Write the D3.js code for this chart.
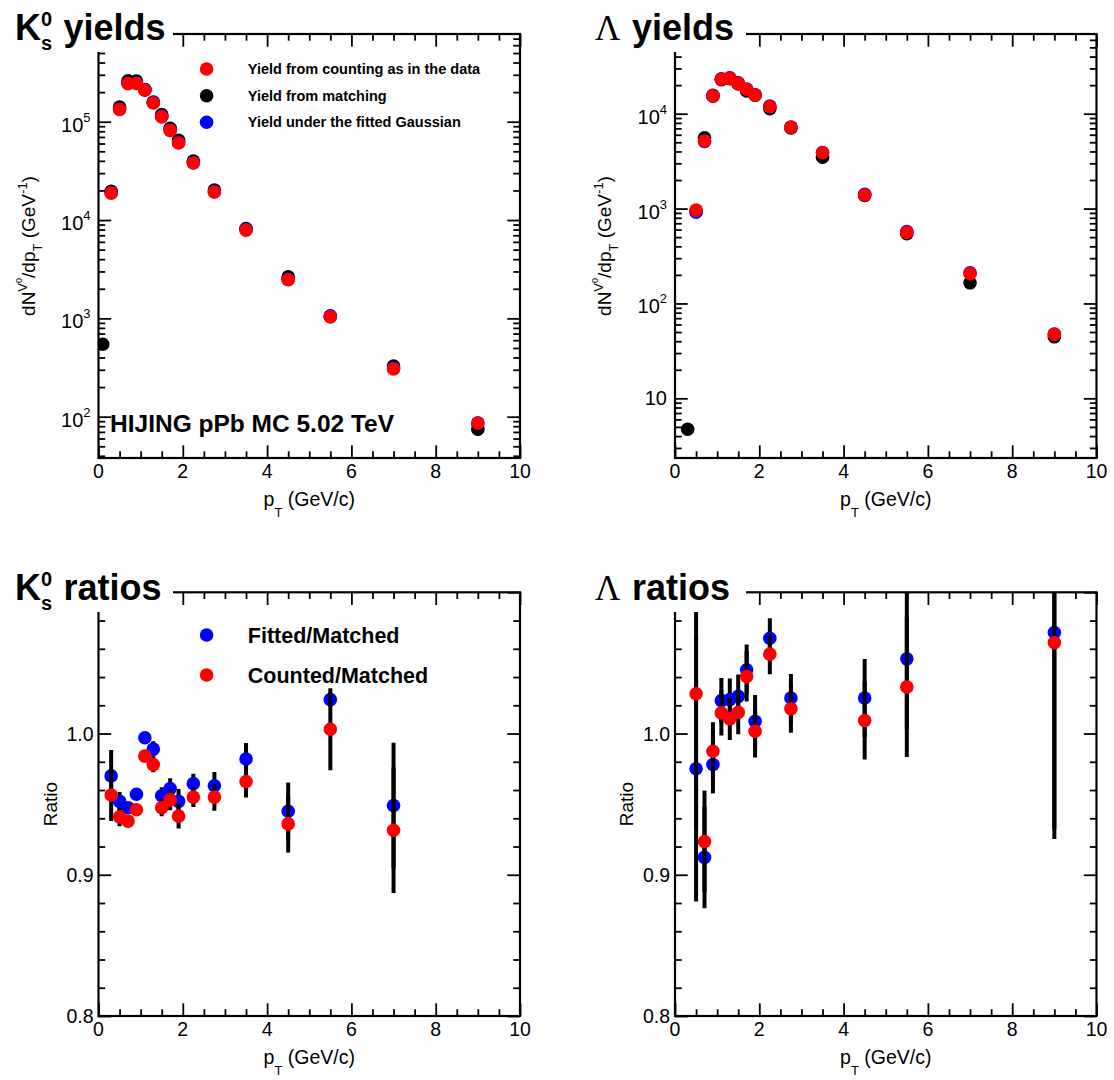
<!DOCTYPE html>
<html><head><meta charset="utf-8">
<script src="https://cdn.jsdelivr.net/npm/d3@7"></script>
<style>
body{margin:0;background:#fff}
svg{display:block}
text{font-family:"Liberation Sans",Arial,Helvetica,sans-serif;fill:#000}
</style>
</head><body>
<svg id="c" width="1114" height="1080"></svg>
<script>
// ---------------- DATA ----------------
const ptK0s        = [0.1, 0.3, 0.5, 0.7, 0.9, 1.1, 1.3, 1.5, 1.7, 1.9, 2.25, 2.75, 3.5, 4.5, 5.5, 7, 9];
const k0sMatched   = [546, 19650, 141300, 260100, 259000, 212400, 158500, 118200, 85700, 64600, 39800, 20200, 8180, 2640, 1037, 328, 74.5];
const k0sFitted    = [null, 19070, 134500, 246400, 247900, 211800, 156800, 113000, 82400, 61500, 38400, 19450, 8030, 2495, 1062, 312, 86];
const k0sCounted   = [null, 18800, 133000, 244000, 245000, 209000, 155000, 112000, 81700, 60800, 38000, 19300, 7900, 2470, 1040, 306, 86.3];

const ptLam        = [0.3, 0.5, 0.7, 0.9, 1.1, 1.3, 1.5, 1.7, 1.9, 2.25, 2.75, 3.5, 4.5, 5.5, 7, 9];
const lamMatched   = [4.72, 938, 5576, 15600, 22770, 23360, 20590, 17400, 15680, 11270, 7075, 3470, 1377, 543, 165, 44.5];
const lamFitted    = [null, 915, 5087, 15260, 23300, 23920, 21130, 18190, 15820, 12030, 7250, 3900, 1412, 572, 210, 47.7];
const lamCounted   = [null, 964, 5150, 15400, 23100, 23600, 20900, 18100, 15700, 11900, 7200, 3880, 1390, 561, 207, 47.4];

const ptK0sRatio        = [0.3, 0.5, 0.7, 0.9, 1.1, 1.3, 1.5, 1.7, 1.9, 2.25, 2.75, 3.5, 4.5, 5.5, 7];
const k0sRatioFitted    = [0.970, 0.952, 0.9475, 0.957, 0.997, 0.989, 0.956, 0.961, 0.952, 0.9645, 0.963, 0.982, 0.945, 1.024, 0.949];
const k0sRatioCounted   = [0.9565, 0.941, 0.938, 0.946, 0.984, 0.978, 0.9475, 0.953, 0.9415, 0.955, 0.955, 0.966, 0.936, 1.003, 0.9315];
const k0sRatioErrFitted = [0.0184, 0.0066, 0.003, 0.003, 0.003, 0.0055, 0.006, 0.0074, 0.0088, 0.007, 0.0097, 0.0113, 0.0203, 0.005, 0.0445];
const k0sRatioErrCounted= [0.0184, 0.0066, 0.003, 0.003, 0.003, 0.0055, 0.006, 0.0074, 0.0088, 0.007, 0.0097, 0.0113, 0.0203, 0.029, 0.0445];

const ptLamRatio        = [0.5, 0.7, 0.9, 1.1, 1.3, 1.5, 1.7, 1.9, 2.25, 2.75, 4.5, 5.5, 9];
const lamRatioFitted    = [0.9751, 0.9123, 0.9781, 1.0233, 1.024, 1.0263, 1.0452, 1.0087, 1.0675, 1.0252, 1.0252, 1.0529, 1.0715];
const lamRatioCounted   = [1.0282, 0.9236, 0.9875, 1.0146, 1.0104, 1.015, 1.0404, 1.0016, 1.0562, 1.0176, 1.0092, 1.033, 1.0644];
const lamRatioErr       = [0.094, 0.036, 0.0205, 0.016, 0.015, 0.0155, 0.0178, 0.0185, 0.0142, 0.017, 0.0276, 0.0497, 0.139];

const xTickLabels     = ["0", "2", "4", "6", "8", "10"];
const ratioTickLabels = ["0.8", "0.9", "1.0"];
const k0sYieldExps    = [2, 3, 4, 5];
const lamYieldExps    = [1, 2, 3, 4];

const yieldLegend = [
  {label: "Yield from counting as in the data", color: "#ff0000"},
  {label: "Yield from matching", color: "#000000"},
  {label: "Yield under the fitted Gaussian", color: "#0000ff"}
];
const ratioLegend = [
  {label: "Fitted/Matched", color: "#0000ff"},
  {label: "Counted/Matched", color: "#ff0000"}
];

// ---------------- DRAW ----------------
const svg = d3.select("#c");
svg.append("rect").attr("width", 1114).attr("height", 1080).attr("fill", "#fff");

const R = 6.8;
const P = {
  tl: {x0: 98.5, x1: 520,    y0: 34,    y1: 458},
  tr: {x0: 675,  x1: 1096.5, y0: 34,    y1: 458},
  bl: {x0: 98.5, x1: 520,    y0: 592.3, y1: 1016},
  br: {x0: 675,  x1: 1096.5, y0: 592.3, y1: 1016}
};

function panel(p, id, yScale) {
  const x = d3.scaleLinear().domain([0, 10]).range([p.x0, p.x1]);
  const y = yScale.range([p.y1, p.y0]);
  svg.append("clipPath").attr("id", "clip" + id).append("rect")
    .attr("x", p.x0).attr("y", p.y0).attr("width", p.x1 - p.x0).attr("height", p.y1 - p.y0);
  const g = svg.append("g");
  const data = svg.append("g").attr("clip-path", `url(#clip${id})`);
  return {p, x, y, g, data, id};
}

function ticks(Q, yMajor, yMinor) {
  const {p, x, y, g} = Q;
  const xMaj = xTickLabels.map(Number);
  const xMin = d3.range(0, 10.0001, 0.5).filter(v => !xMaj.includes(v));
  const ax = (gen, vals, size, tr) => g.append("g").attr("transform", tr)
    .call(gen.tickValues(vals).tickSize(-size).tickFormat(""))
    .call(s => { s.select(".domain").remove(); s.selectAll("line").attr("stroke", "#000").attr("stroke-width", 1.8); });
  ax(d3.axisBottom(x), xMaj, 12.7, `translate(0,${p.y1})`);
  ax(d3.axisBottom(x), xMin, 6.7, `translate(0,${p.y1})`);
  ax(d3.axisTop(x), xMaj, 12.7, `translate(0,${p.y0})`);
  ax(d3.axisTop(x), xMin, 6.7, `translate(0,${p.y0})`);
  ax(d3.axisLeft(y), yMajor, 12.7, `translate(${p.x0},0)`);
  ax(d3.axisLeft(y), yMinor, 6.7, `translate(${p.x0},0)`);
  ax(d3.axisRight(y), yMajor, 12.7, `translate(${p.x1},0)`);
  ax(d3.axisRight(y), yMinor, 6.7, `translate(${p.x1},0)`);
  xTickLabels.forEach(l => {
    g.append("text").attr("x", x(+l)).attr("y", p.y1 + 19.5).attr("text-anchor", "middle")
      .attr("font-size", 19.5).text(l);
  });
  const t = g.append("text").attr("x", (p.x0 + p.x1) / 2).attr("y", p.y1 + 47.5)
    .attr("text-anchor", "middle").attr("font-size", 19.5);
  t.append("tspan").text("p");
  t.append("tspan").attr("font-size", 13).attr("dy", 11).text("T");
  t.append("tspan").attr("dy", -11).text(" (GeV/c)");
}

function logMinor(domain) {
  const out = [];
  for (let d = Math.floor(Math.log10(domain[0])); d <= Math.ceil(Math.log10(domain[1])); d++)
    for (let m = 2; m <= 9; m++) {
      const v = m * Math.pow(10, d);
      if (v >= domain[0] && v <= domain[1]) out.push(v);
    }
  return out;
}

function logLabels(Q, exps) {
  const {p, y, g} = Q;
  exps.forEach(e => {
    const v = Math.pow(10, e);
    const t = g.append("text").attr("x", p.x0 - 8).attr("text-anchor", "end").attr("font-size", 20);
    if (e === 1) {
      t.attr("y", y(v) + 7).text("10");
    } else {
      t.attr("y", y(v) + 10);
      t.append("tspan").text("10");
      t.append("tspan").attr("font-size", 13).attr("dy", -10).text(String(e));
    }
  });
}

function yieldYTitle(Q) {
  const {p} = Q;
  const t = svg.append("text")
    .attr("transform", `translate(${p.x0 - 64},${(p.y0 + p.y1) / 2}) rotate(-90)`)
    .attr("text-anchor", "middle").attr("font-size", 19);
  t.append("tspan").text("dN");
  t.append("tspan").attr("font-size", 13).attr("dy", -8).text("V");
  t.append("tspan").attr("font-size", 9).attr("dy", -5).text("0");
  t.append("tspan").attr("dy", 13).text("/dp");
  t.append("tspan").attr("font-size", 13).attr("dy", 7).text("T");
  t.append("tspan").attr("dy", -7).text(" (GeV");
  t.append("tspan").attr("font-size", 13).attr("dy", -8).text("-1");
  t.append("tspan").attr("dy", 8).text(")");
}

function ratioYTitle(Q) {
  const {p} = Q;
  svg.append("text")
    .attr("transform", `translate(${p.x0 - 42},${(p.y0 + p.y1) / 2}) rotate(-90)`)
    .attr("text-anchor", "middle").attr("font-size", 19).text("Ratio");
}

function markers(Q, xs, vals, color) {
  Q.data.append("g").selectAll("circle")
    .data(xs.map((v, i) => [v, vals[i]]).filter(d => d[1] != null))
    .join("circle").attr("cx", d => Q.x(d[0])).attr("cy", d => Q.y(d[1])).attr("r", R).attr("fill", color);
}

function errBars(Q, xs, vals, errs) {
  Q.data.append("g").selectAll("line")
    .data(xs.map((v, i) => [v, vals[i], errs[i]]))
    .join("line").attr("x1", d => Q.x(d[0])).attr("x2", d => Q.x(d[0]))
    .attr("y1", d => Q.y(d[1] - d[2])).attr("y2", d => Q.y(d[1] + d[2]))
    .attr("stroke", "#000").attr("stroke-width", 4);
}

function frame(Q) {
  const {p} = Q;
  svg.append("rect").attr("x", p.x0).attr("y", p.y0).attr("width", p.x1 - p.x0).attr("height", p.y1 - p.y0)
    .attr("fill", "none").attr("stroke", "#000").attr("stroke-width", 2.2);
}

// ---- Top-left: K0s yields
const kDom = [38.0, 7.8e5];
const TL = panel(P.tl, "tl", d3.scaleLog().domain(kDom));
ticks(TL, k0sYieldExps.map(e => Math.pow(10, e)), logMinor(kDom));
logLabels(TL, k0sYieldExps);
yieldYTitle(TL);
markers(TL, ptK0s, k0sMatched, "#000");
markers(TL, ptK0s, k0sFitted, "#0000ff");
markers(TL, ptK0s, k0sCounted, "#ff0000");
frame(TL);
yieldLegend.forEach((d, i) => {
  const yy = [69, 95.7, 122.3][i];
  svg.append("circle").attr("cx", 206.6).attr("cy", yy).attr("r", R).attr("fill", d.color);
  svg.append("text").attr("x", 247.8).attr("y", yy + 5).attr("font-size", 14.5).attr("font-weight", "bold").text(d.label);
});
svg.append("text").attr("x", 110).attr("y", 431.7).attr("font-size", 24.5).attr("font-weight", "bold")
  .text("HIJING pPb MC 5.02 TeV");

// ---- Top-right: Lambda yields
const lDom = [2.35, 6.92e4];
const TR = panel(P.tr, "tr", d3.scaleLog().domain(lDom));
ticks(TR, lamYieldExps.map(e => Math.pow(10, e)), logMinor(lDom));
logLabels(TR, lamYieldExps);
yieldYTitle(TR);
markers(TR, ptLam, lamMatched, "#000");
markers(TR, ptLam, lamFitted, "#0000ff");
markers(TR, ptLam, lamCounted, "#ff0000");
frame(TR);

// ---- ratio panels
const rMajor = [0.8, 0.9, 1.0, 1.1];
const rMinor = d3.range(0.8, 1.1001, 0.02).filter(v => !rMajor.some(m => Math.abs(m - v) < 1e-6));
function ratioLabels(Q) {
  ratioTickLabels.forEach(l => {
    Q.g.append("text").attr("x", Q.p.x0 - 5).attr("y", Q.y(+l) + 7).attr("text-anchor", "end")
      .attr("font-size", 19.5).text(l);
  });
}

const BL = panel(P.bl, "bl", d3.scaleLinear().domain([0.8, 1.1]));
ticks(BL, rMajor, rMinor);
ratioLabels(BL);
ratioYTitle(BL);
errBars(BL, ptK0sRatio, k0sRatioFitted, k0sRatioErrFitted);
markers(BL, ptK0sRatio, k0sRatioFitted, "#0000ff");
errBars(BL, ptK0sRatio, k0sRatioCounted, k0sRatioErrCounted);
markers(BL, ptK0sRatio, k0sRatioCounted, "#ff0000");
frame(BL);
ratioLegend.forEach((d, i) => {
  const yy = [635, 675][i];
  svg.append("circle").attr("cx", 206.6).attr("cy", yy).attr("r", R).attr("fill", d.color);
  svg.append("text").attr("x", 247.8).attr("y", yy + 7.5).attr("font-size", 21.5).attr("font-weight", "bold").text(d.label);
});

const BR = panel(P.br, "br", d3.scaleLinear().domain([0.8, 1.1]));
ticks(BR, rMajor, rMinor);
ratioLabels(BR);
ratioYTitle(BR);
errBars(BR, ptLamRatio, lamRatioFitted, lamRatioErr);
markers(BR, ptLamRatio, lamRatioFitted, "#0000ff");
errBars(BR, ptLamRatio, lamRatioCounted, lamRatioErr);
markers(BR, ptLamRatio, lamRatioCounted, "#ff0000");
frame(BR);

// ---- title boxes
function kTitle(y0, word) {
  svg.append("rect").attr("x", 0).attr("y", y0 - 52).attr("width", 173).attr("height", 52).attr("fill", "#fff");
  const base = y0 - 12;
  svg.append("text").attr("x", 15).attr("y", base).attr("font-size", 36).attr("font-weight", "bold").text("K");
  svg.append("text").attr("x", 41).attr("y", base - 14).attr("font-size", 20).attr("font-weight", "bold").text("0");
  svg.append("text").attr("x", 41).attr("y", base + 10).attr("font-size", 20).attr("font-weight", "bold").text("s");
  svg.append("text").attr("x", 63.5).attr("y", base).attr("font-size", 36).attr("font-weight", "bold").text(word);
}
function lTitle(y0, word) {
  svg.append("rect").attr("x", 560).attr("y", y0 - 52).attr("width", 186).attr("height", 52).attr("fill", "#fff");
  const base = y0 - 12;
  svg.append("text").attr("x", 595).attr("y", base).attr("font-size", 35)
    .style("font-family", "'Liberation Serif','Times New Roman',serif").text("Λ");
  svg.append("text").attr("x", 632).attr("y", base).attr("font-size", 36).attr("font-weight", "bold").text(word);
}
kTitle(52, "yields");
lTitle(52, "yields");
kTitle(612, "ratios");
lTitle(612, "ratios");
</script>
</body></html>
